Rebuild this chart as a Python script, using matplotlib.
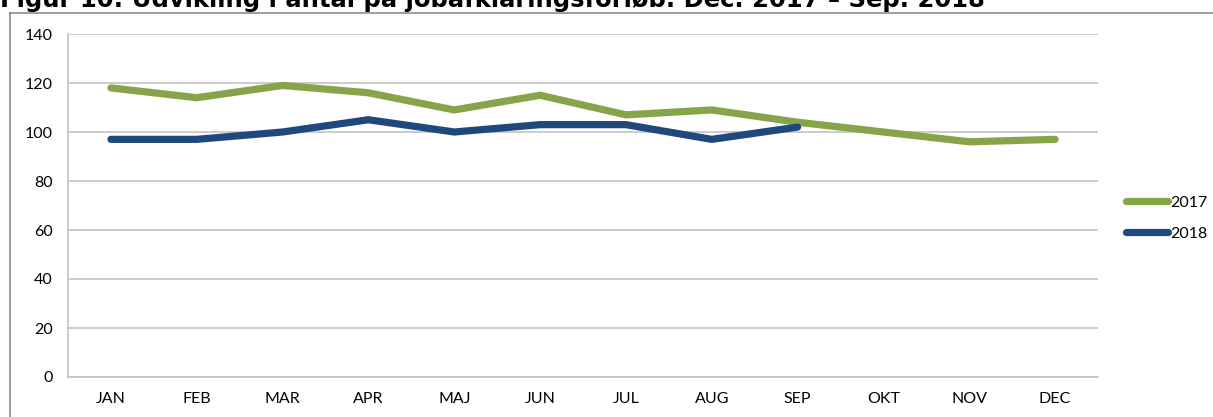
import matplotlib
matplotlib.use("Agg")
import matplotlib.pyplot as plt
from matplotlib.lines import Line2D

# data
months = ["JAN", "FEB", "MAR", "APR", "MAJ", "JUN", "JUL", "AUG", "SEP", "OKT", "NOV", "DEC"]
values_2017 = [118, 114, 119, 116, 109, 115, 107, 109, 104, 100, 96, 97]
values_2018 = [97, 97, 100, 105, 100, 103, 103, 97, 102]
yticks = [0, 20, 40, 60, 80, 100, 120, 140]

title = "Figur 10: Udvikling i antal på jobafklaringsforløb. Dec. 2017 – Sep. 2018"

green = "#86A44A"
blue = "#1F497D"
grid_col = "#BFBFBF"

W, H = 1213, 417
fig = plt.figure(figsize=(W / 100, H / 100), dpi=100)
fig.patch.set_facecolor("white")

# title is clipped by the top of the image, as in the source page
fig.text(0.0, 1 - 7 / H, title, ha="left", va="baseline",
         fontsize=17.5, fontweight="bold", family=["DejaVu Sans"])

# outer chart frame (left and top edges only, rest is outside the image)
fig.add_artist(Line2D([10 / W, 10 / W], [0, 1 - 13 / H], transform=fig.transFigure,
                      color="#8C8C8C", lw=1.2))
fig.add_artist(Line2D([10 / W, 1], [1 - 13 / H, 1 - 13 / H], transform=fig.transFigure,
                      color="#8C8C8C", lw=1.2))

ax = fig.add_axes([68 / W, 1 - 377 / H, (1098 - 68) / W, (377 - 34) / H])

x17 = list(range(len(values_2017)))
x18 = list(range(len(values_2018)))
ax.plot(x17, values_2017, color=green, lw=5.2, solid_capstyle="round",
        solid_joinstyle="round", label="2017", zorder=3)
ax.plot(x18, values_2018, color=blue, lw=5.2, solid_capstyle="round",
        solid_joinstyle="round", label="2018", zorder=4)

ax.set_xlim(-0.5, len(months) - 0.5)
ax.set_ylim(0, 140)
ax.set_yticks(yticks)
ax.set_xticks(x17)
ax.set_xticklabels(months)
ax.yaxis.grid(True, color=grid_col, lw=1.1)
ax.set_axisbelow(True)

for side in ["top", "right"]:
    ax.spines[side].set_visible(False)
ax.spines["left"].set_color(grid_col)
ax.spines["bottom"].set_color(grid_col)
ax.spines["left"].set_linewidth(1.1)
ax.spines["bottom"].set_linewidth(1.1)

tick_font = ["Lato", "DejaVu Sans"]
ax.tick_params(axis="both", length=0, labelsize=11.5, colors="#000000")
ax.tick_params(axis="y", pad=11)
ax.tick_params(axis="x", pad=11)
for lab in ax.get_xticklabels() + ax.get_yticklabels():
    lab.set_family(tick_font)

leg = fig.legend(loc="center left", bbox_to_anchor=(1126 / W, 1 - 218 / H),
                 frameon=False, handlelength=2.6, handletextpad=0.15,
                 labelspacing=1.05, borderpad=0, borderaxespad=0,
                 prop={"family": tick_font, "size": 11.5})

fig.savefig("out.png", dpi=100, facecolor="white")
